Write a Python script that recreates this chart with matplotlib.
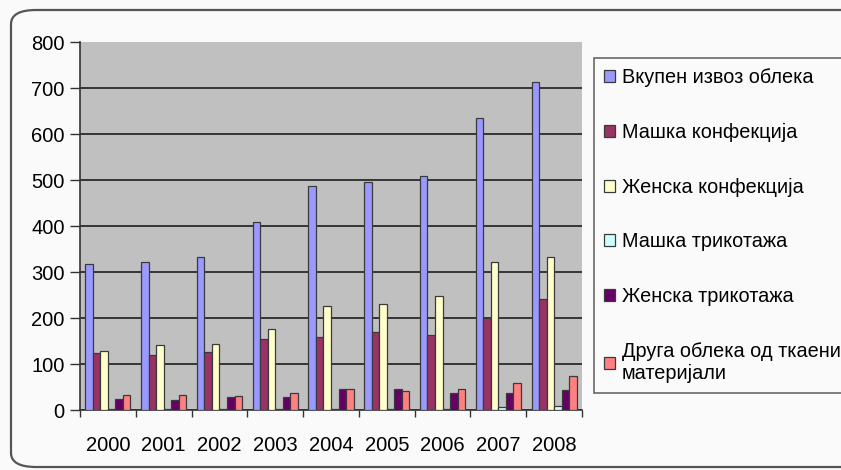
import numpy as np
import matplotlib.pyplot as plt
from matplotlib.patches import FancyBboxPatch

plt.rcParams['font.family'] = ['Liberation Sans', 'DejaVu Sans']

years = ['2000', '2001', '2002', '2003', '2004', '2005', '2006', '2007', '2008']
series_names = ['Вкупен извоз облека', 'Машка конфекција', 'Женска конфекција',
                'Машка трикотажа', 'Женска трикотажа',
                'Друга облека од ткаени\nматеријали']
total_export = [317, 321, 333, 409, 488, 496, 509, 634, 714]
men_apparel = [125, 120, 127, 154, 158, 170, 163, 199, 241]
women_apparel = [128, 141, 143, 176, 227, 230, 248, 322, 333]
men_knit = [3, 3, 3, 3, 3, 3, 3, 7, 8]
women_knit = [25, 22, 29, 29, 45, 45, 38, 38, 44]
other_woven = [33, 33, 31, 38, 45, 42, 45, 59, 75]
colors = ['#9999FF', '#993366', '#FFFFCC', '#CCFFFF', '#660066', '#FF8080']

W, H = 841, 470
fig = plt.figure(figsize=(W / 100, H / 100), dpi=100)
fig.patch.set_facecolor('#FAFAFA')

# rounded chart frame
frame = FancyBboxPatch((11 / W, 3 / H), 900 / W, 457 / H,
                       boxstyle='round,pad=0,rounding_size=0.03',
                       transform=fig.transFigure, facecolor='none',
                       edgecolor='#555555', linewidth=1.6)
fig.patches.append(frame)

ax = fig.add_axes([80 / W, (H - 410) / H, (582 - 80) / W, (410 - 42) / H])
ax.set_facecolor('#C0C0C0')

x = np.arange(len(years))
w = 0.135
data = [total_export, men_apparel, women_apparel, men_knit, women_knit, other_woven]
handles = []
for i, (vals, c) in enumerate(zip(data, colors)):
    b = ax.bar(x + (i - 2.5) * w, vals, w, color=c, edgecolor='#3a3a3a',
               linewidth=0.9, zorder=3)
    handles.append(b)

ax.set_xlim(-0.5, len(years) - 0.5)
ax.set_ylim(0, 800)
ax.set_yticks(range(0, 801, 100))
ax.yaxis.grid(True, color='#2a2a2a', linewidth=1.3, zorder=1)
ax.get_ygridlines()[-1].set_visible(False)
ax.set_axisbelow(True)

ax.set_xticks(np.arange(-0.5, len(years), 1))
ax.set_xticklabels([])
ax.set_xticks(x, minor=True)
ax.set_xticklabels(years, minor=True, fontsize=14.5)
ax.tick_params(axis='x', which='major', length=5, width=1, color='#333333')
ax.tick_params(axis='x', which='minor', length=0, pad=19)
ax.tick_params(axis='y', length=7, width=1, color='#333333', labelsize=14.5, pad=4)

for side in ['top', 'right']:
    ax.spines[side].set_visible(False)
for side in ['left', 'bottom']:
    ax.spines[side].set_color('#333333')
    ax.spines[side].set_linewidth(1.2)

leg = fig.legend(handles, series_names, loc='upper left',
                 bbox_to_anchor=(594 / W, 1 - 58 / H),
                 bbox_transform=fig.transFigure,
                 fontsize=14.3, frameon=True, fancybox=False,
                 handlelength=0.55, handleheight=0.55, handletextpad=0.35,
                 labelspacing=1.8, borderpad=0.5, borderaxespad=0)
leg.get_frame().set_edgecolor('#444444')
leg.get_frame().set_linewidth(1.2)
leg.get_frame().set_facecolor('#FAFAFA')

fig.savefig('out.png', dpi=100, facecolor=fig.get_facecolor())
